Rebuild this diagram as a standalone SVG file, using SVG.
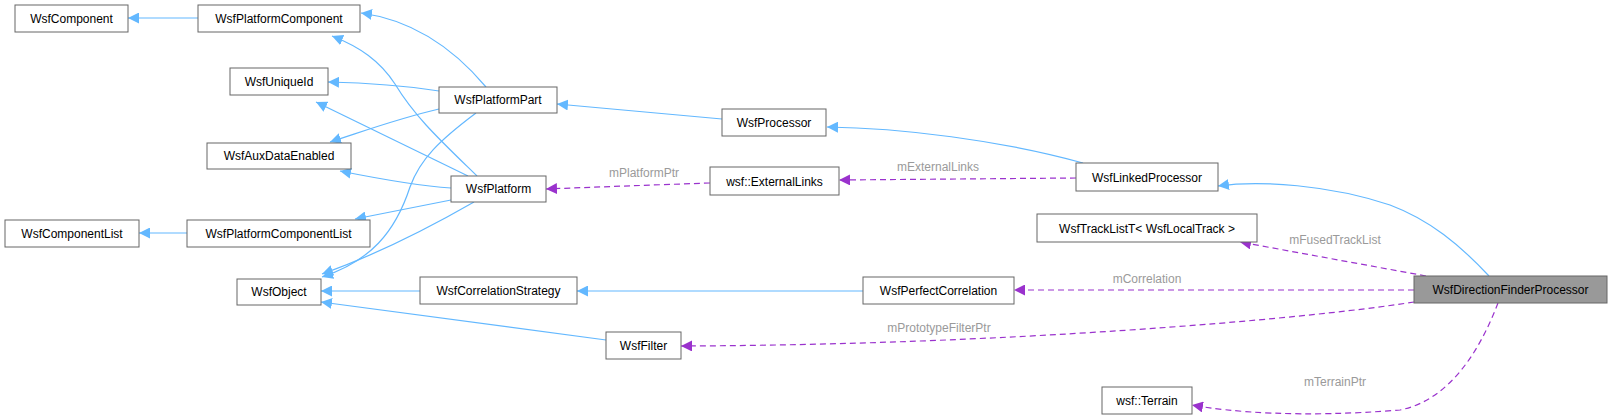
<svg xmlns="http://www.w3.org/2000/svg" width="1612" height="420" viewBox="0 0 1612 420">
<defs>
<marker id="ab" viewBox="0 0 10 10" refX="10" refY="5" markerWidth="11" markerHeight="11" markerUnits="userSpaceOnUse" orient="auto"><path d="M0,0 L10,5 L0,10 z" fill="#63b8ff"/></marker>
<marker id="ap" viewBox="0 0 10 10" refX="10" refY="5" markerWidth="11" markerHeight="11" markerUnits="userSpaceOnUse" orient="auto"><path d="M0,0 L10,5 L0,10 z" fill="#9a32cd"/></marker>
</defs>
<style>
.n rect{fill:#fff;stroke:#666;stroke-width:1}
.n text,.l{font-family:"Liberation Sans",Arial,sans-serif;font-size:12px;text-anchor:middle}
.n text{fill:#000}
.l{fill:#9a9a9a}
.b{fill:none;stroke:#63b8ff;stroke-width:1.2;marker-end:url(#ab)}
.p{fill:none;stroke:#9a32cd;stroke-width:1.2;stroke-dasharray:6,4;marker-end:url(#ap)}
</style>
<rect width="1612" height="420" fill="#fff"/>
<g id="connectors">
<path class="b" d="M198,18 L128,18"/>
<path class="b" d="M486,87 C460,56 420,21 361,13"/>
<path class="b" d="M477,176 C440,140 415,117 395,84 C380,61 360,47 332,36"/>
<path class="b" d="M439,91 C400,85 370,83 328,82"/>
<path class="b" d="M468,176 L316,102"/>
<path class="b" d="M439,109 C400,118 370,129 330,142"/>
<path class="b" d="M451,188 C420,186 390,181 340,171"/>
<path class="b" d="M451,200 L355,219"/>
<path class="b" d="M187,233 L139,233"/>
<path class="b" d="M476,113 C440,140 420,159 410,187 C395,233 370,261 322,277"/>
<path class="b" d="M474,202 C420,233 370,257 322,274"/>
<path class="b" d="M420,291 L321,291"/>
<path class="b" d="M606,340 L321,302"/>
<path class="b" d="M722,119 L557,104"/>
<path class="b" d="M1083,163 C1000,140 900,128 827,127"/>
<path class="b" d="M1489,276 C1460,245 1430,220 1390,205 C1330,185 1260,180 1218,186"/>
<path class="b" d="M863,291 L577,291"/>
<path class="p" d="M710,183 C650,185 600,187 546,189"/>
<path class="p" d="M1076,178 L839,180"/>
<path class="p" d="M1426,276 L1240,242"/>
<path class="p" d="M1414,290 L1014,290"/>
<path class="p" d="M1414,302 C1300,320 1000,345 681,346"/>
<path class="p" d="M1498,303 C1480,350 1450,400 1400,410 C1300,418 1230,412 1192,405"/>
<text class="l" x="644" y="177">mPlatformPtr</text>
<text class="l" x="938" y="171">mExternalLinks</text>
<text class="l" x="1335" y="244">mFusedTrackList</text>
<text class="l" x="1147" y="283">mCorrelation</text>
<text class="l" x="939" y="332">mPrototypeFilterPtr</text>
<text class="l" x="1335" y="386">mTerrainPtr</text>
</g>
<g id="WsfComponent" class="n"><rect x="15" y="5" width="113" height="27"/><text x="71.5" y="23">WsfComponent</text></g>
<g id="WsfPlatformComponent" class="n"><rect x="198" y="5" width="162" height="27"/><text x="279" y="23">WsfPlatformComponent</text></g>
<g id="WsfUniqueId" class="n"><rect x="230" y="68" width="98" height="27"/><text x="279" y="86">WsfUniqueId</text></g>
<g id="WsfPlatformPart" class="n"><rect x="439" y="87" width="118" height="26"/><text x="498" y="104">WsfPlatformPart</text></g>
<g id="WsfAuxDataEnabled" class="n"><rect x="207" y="143" width="144" height="26"/><text x="279" y="160">WsfAuxDataEnabled</text></g>
<g id="WsfPlatform" class="n"><rect x="451" y="176" width="95" height="26"/><text x="498.5" y="193">WsfPlatform</text></g>
<g id="WsfComponentList" class="n"><rect x="5" y="220" width="134" height="27"/><text x="72" y="238">WsfComponentList</text></g>
<g id="WsfPlatformComponentList" class="n"><rect x="187" y="220" width="183" height="27"/><text x="278.5" y="238">WsfPlatformComponentList</text></g>
<g id="WsfObject" class="n"><rect x="237" y="279" width="84" height="26"/><text x="279" y="296">WsfObject</text></g>
<g id="WsfCorrelationStrategy" class="n"><rect x="420" y="277" width="157" height="27"/><text x="498.5" y="295">WsfCorrelationStrategy</text></g>
<g id="WsfFilter" class="n"><rect x="606" y="332" width="75" height="27"/><text x="643.5" y="350">WsfFilter</text></g>
<g id="WsfProcessor" class="n"><rect x="722" y="109" width="104" height="27"/><text x="774" y="127">WsfProcessor</text></g>
<g id="wsf_ExternalLinks" class="n"><rect x="710" y="167" width="129" height="28"/><text x="774.5" y="186">wsf::ExternalLinks</text></g>
<g id="WsfLinkedProcessor" class="n"><rect x="1076" y="163" width="142" height="28"/><text x="1147" y="182">WsfLinkedProcessor</text></g>
<g id="WsfTrackListT" class="n"><rect x="1037" y="214" width="220" height="28"/><text x="1147" y="233">WsfTrackListT&lt; WsfLocalTrack &gt;</text></g>
<g id="WsfPerfectCorrelation" class="n"><rect x="863" y="277" width="151" height="27"/><text x="938.5" y="295">WsfPerfectCorrelation</text></g>
<g id="WsfDirectionFinderProcessor" class="n"><rect x="1414" y="276" width="193" height="27" style="fill:#999"/><text x="1510.5" y="294">WsfDirectionFinderProcessor</text></g>
<g id="wsf_Terrain" class="n"><rect x="1102" y="387" width="90" height="27"/><text x="1147" y="405">wsf::Terrain</text></g>
</svg>
